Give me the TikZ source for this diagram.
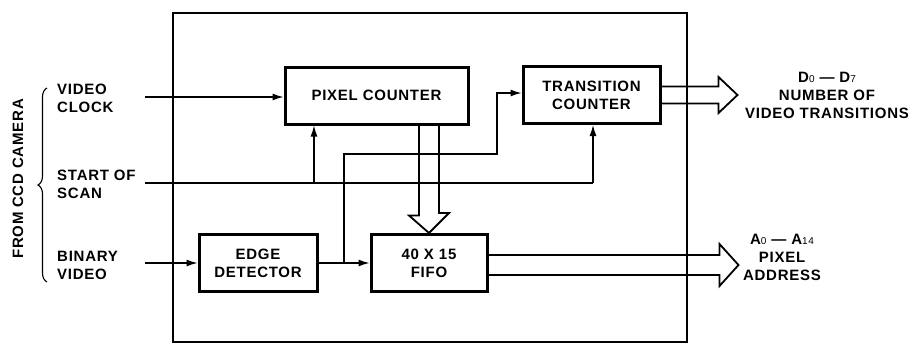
\documentclass[tikz,border=0pt]{standalone}
\usepackage{fontspec}
\setmainfont[LetterSpace=5]{Liberation Sans}
\usetikzlibrary{arrows.meta,positioning,calc,decorations.pathreplacing}
\newcommand{\lowidx}[1]{{\fontsize{10}{10}\selectfont\mdseries #1}}
\tikzset{
    block/.style={draw, line width=3pt, minimum width=#1, minimum height=57pt, inner sep=0pt, align=center},
    sig/.style={-{Latex[length=11pt, width=7pt]}, line width=1.3pt},
    wire/.style={line width=1.3pt},
    bus/.style={line width=1.8pt, line join=miter},
    lbl/.style={align=left, anchor=west, inner sep=0pt},
    outlbl/.style={align=center, inner sep=0pt}
}

\begin{document}
\begin{tikzpicture}[x=1pt, y=-1pt, font=\fontsize{15}{18}\selectfont\bfseries]
    \useasboundingbox (0,0) rectangle (913,343);
    % chip outline
    \draw[line width=1.1pt] (173,342) rectangle (687,13);

    % blocks
    \node[block=183pt] (pixcount) at (376.5,95.5) {PIXEL COUNTER};
    \node[block=137pt] (transcount) at (591.5,95) {TRANSITION\\COUNTER};
    \node[block=118pt] (edgedet) at (258,263) {EDGE\\DETECTOR};
    \node[block=116pt] (fifo) at (429,263) {40 X 15\\FIFO};

    % inputs
    \node[lbl] (clklbl) at (57,98) {VIDEO\\CLOCK};
    \node[lbl] (scanlbl) at (57,184) {START OF\\SCAN};
    \node[lbl] (binlbl) at (57,265) {BINARY\\VIDEO};
    \node[rotate=90, inner sep=0pt] (camlbl) at (18,179) {FROM CCD CAMERA};
    \draw[line width=1.1pt, decorate, decoration={brace, amplitude=9pt}] (47,282) -- (47,88);

    \coordinate (clkin) at (145,97);
    \coordinate (scanin) at (145,183);
    \coordinate (binin) at (145,263);
    \coordinate (pcsplit) at (314,183);
    \coordinate (tcsplit) at (593,183);
    \coordinate (edsplit) at (344,263);

    \draw[sig] (clkin) -- (clkin -| pixcount.west);
    \draw[wire] (scanin) -- (tcsplit);
    \draw[sig] (pcsplit) -- (pcsplit |- pixcount.south);
    \draw[sig] (tcsplit) -- (tcsplit |- transcount.south);
    \draw[sig] (binin) -- (edgedet.west);
    \draw[sig] (edgedet.east) -- (fifo.west);
    \draw[sig] (edsplit) |- (497,154) |- ([yshift=2pt]transcount.west);

    % wide data paths
    \draw[bus] (fifo.north |- pixcount.south) ++(-10,0) -- ++(0,90) -- ++(-10,0) -- (fifo.north) -- ++(20,-20) -- ++(-10,0) -- ++(0,-90);
    \draw[bus] (transcount.east) ++(0,-8.5) -- ++(57,0) -- ++(0,-9.5) -- ++(19,18) -- ++(-19,18) -- ++(0,-9.5) -- ++(-57,0);
    \draw[bus] ([yshift=-2pt]fifo.east) ++(0,-10) -- ++(231,0) -- ++(0,-11) -- ++(19,21) -- ++(-19,21) -- ++(0,-11) -- ++(-231,0);

    % outputs
    \node[outlbl] (dlbl) at (827,95) {D\lowidx{0} --- D\lowidx{7}\\NUMBER OF\\VIDEO TRANSITIONS};
    \node[outlbl] (albl) at (782,257) {A\lowidx{0} --- A\lowidx{14}\\PIXEL\\ADDRESS};
\end{tikzpicture}
\end{document}
